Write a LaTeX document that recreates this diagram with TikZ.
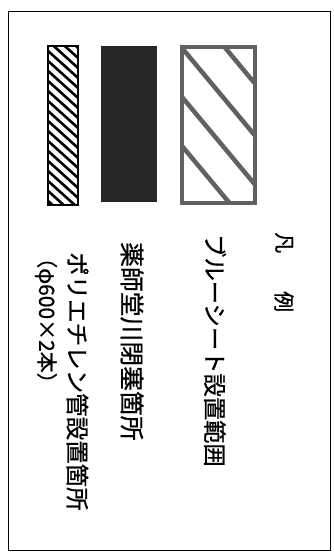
\documentclass[tikz,border=0pt]{standalone}
\usepackage{fontspec}
\newfontfamily\jp[FakeBold=0.8]{Noto Sans CJK JP}
\begin{document}
\begin{tikzpicture}[x=1pt,y=-1pt,
  lbl/.style={rotate=-90,anchor=west,inner sep=0pt,font=\jp},
  grayline/.style={draw=black!62,line width=4.5pt},
  fineline/.style={draw=black,line width=2.6pt}]
\useasboundingbox (0,0) rectangle (334,552);
\fill[white] (0,0) rectangle (334,552);
% frame
\draw[line width=1.8pt] (8.5,11.5) rectangle (330.5,550.5);
% blue-sheet box (grey hatch)
\begin{scope}
\clip (182,47) rectangle (255,203);
\foreach \y in {-4,48,97,146}
  \draw[grayline] (170,\y-14.4) -- (270,\y+105.6);
\end{scope}
\draw[grayline] (182,47) rectangle (255,203);
% closed section (black)
\fill[black!85] (101,46) rectangle (156.5,202);
% pipe section (fine hatch)
\begin{scope}
\clip (47.5,45.5) rectangle (77.5,205);
\foreach \y in {20,30,...,220}
  \draw[fineline] (40,\y-6.3) -- (85,\y+34.2);
\end{scope}
\draw[line width=2pt] (47.5,45.5) rectangle (77.5,205);
% texts
\node[lbl,font=\jp\fontsize{21}{21}\selectfont] (t1) at (284,232) {凡};
\node[lbl,font=\jp\fontsize{21}{21}\selectfont] (t2) at (284,291) {例};
\node[lbl,font=\jp\fontsize{23.3}{24}\selectfont] (t3) at (215,234) {ブルーシート設置範囲};
\node[lbl,font=\jp\fontsize{24.8}{25}\selectfont] (t4) at (132,242) {薬師堂川閉塞箇所};
\node[lbl,font=\jp\fontsize{23.5}{24}\selectfont] (t5) at (77.5,252) {ポリエチレン管設置箇所};
\node[lbl,font=\jp\fontsize{21}{22}\selectfont] (t6) at (46,247) {（φ600×2本）};
\end{tikzpicture}
\end{document}
